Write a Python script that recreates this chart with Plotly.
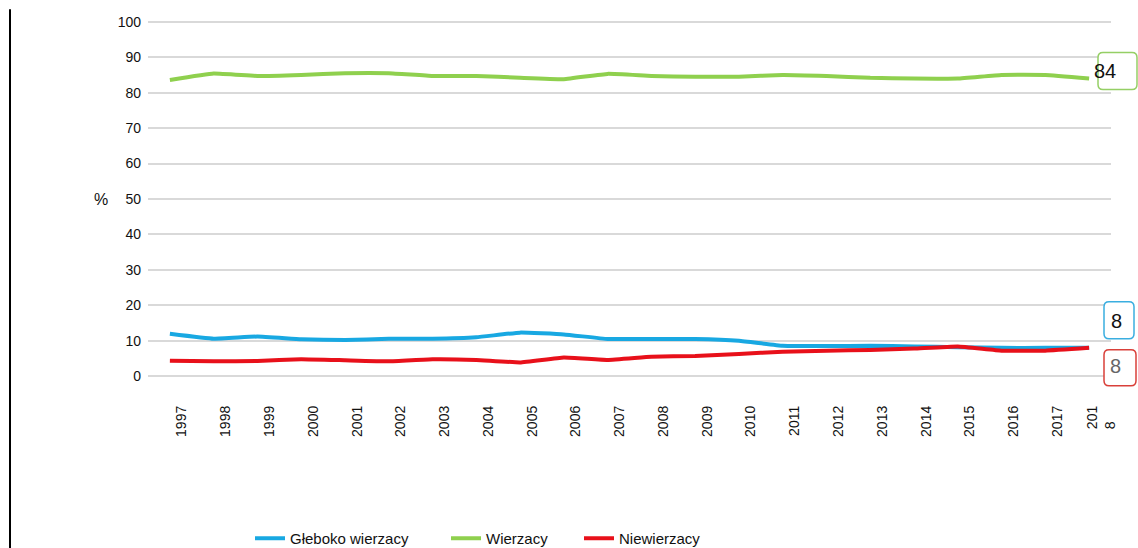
import plotly.graph_objects as go

# Survey years and tick labels (last label wraps onto a second line)
years = list(range(1997, 2019))
year_labels = [str(y) for y in years[:-1]] + ["201<br>8" + "\u00a0" * 4]

# Share of respondents, %
gleboko = [12.0, 10.6, 11.2, 10.4, 10.2, 10.6, 10.6, 11.0, 12.3, 11.8, 10.5,
           10.5, 10.5, 10.0, 8.6, 8.5, 8.6, 8.4, 8.2, 8.0, 8.0, 8]
wierzacy = [83.6, 85.4, 84.7, 85.0, 85.5, 85.5, 84.7, 84.7, 84.2, 83.8, 85.3,
            84.7, 84.5, 84.5, 85.0, 84.7, 84.2, 84.0, 84.0, 85.0, 85.0, 84]
niewierzacy = [4.4, 4.2, 4.3, 4.8, 4.5, 4.2, 4.8, 4.6, 3.9, 5.3, 4.6,
               5.5, 5.7, 6.3, 6.9, 7.2, 7.4, 7.8, 8.4, 7.2, 7.2, 8]

series_names = ["Głeboko wierzacy", "Wierzacy", "Niewierzacy"]
line_colors = ["#18a8e2", "#8fd04e", "#e8101a"]
box_colors = ["#3aaee0", "#95cf65", "#d9403a"]
end_text_colors = ["#111111", "#111111", "#666666"]

FONT = "Liberation Sans, Arial, sans-serif"
Y_MIN, Y_MAX = -0.5, 100.5

fig = go.Figure()
for i, (name, vals) in enumerate(zip(series_names, [gleboko, wierzacy, niewierzacy])):
    fig.add_trace(go.Scatter(
        x=years, y=vals, name=name, mode="lines",
        line=dict(color=line_colors[i], width=4, shape="spline", smoothing=0.3),
        legend="legend" if i == 0 else f"legend{i + 1}",
    ))

# Each legend entry placed on its own, in container pixels
legend_left = [250, 446, 579]
legend_common = dict(
    orientation="h", xref="container", yref="container", xanchor="left",
    yanchor="top", y=(548 - 522) / 548, font=dict(family=FONT, size=15, color="#111111"),
    bgcolor="rgba(0,0,0,0)", itemwidth=30,
)
fig.update_layout(
    legend=dict(x=legend_left[0] / 1138, **legend_common),
    legend2=dict(x=legend_left[1] / 1138, **legend_common),
    legend3=dict(x=legend_left[2] / 1138, **legend_common),
)


def rounded_box(x0, x1, y0, y1, r=5):
    # pixel offsets; y grows upward
    return (f"M{x0 + r},{y1} L{x1 - r},{y1} Q{x1},{y1} {x1},{y1 - r} "
            f"L{x1},{y0 + r} Q{x1},{y0} {x1 - r},{y0} L{x0 + r},{y0} "
            f"Q{x0},{y0} {x0},{y0 + r} L{x0},{y1 - r} Q{x0},{y1} {x0 + r},{y1} Z")


# End-value call-outs at the right edge of the plot
last_vals = [gleboko[-1], wierzacy[-1], niewierzacy[-1]]
boxes = [(-7, 23, 9, 46), (-13, 26, -11, 26), (-7, 25, -38, -2)]
text_shift = [(13, 27), (7, 7), (12, -18)]
for i in [1, 0, 2]:
    bx0, bx1, by0, by1 = boxes[i]
    fig.add_shape(
        type="path", xref="paper", yref="paper", xsizemode="pixel", ysizemode="pixel",
        xanchor=1, yanchor=(last_vals[i] - Y_MIN) / (Y_MAX - Y_MIN),
        path=rounded_box(bx0, bx1, by0, by1),
        line=dict(color=box_colors[i], width=1.5), fillcolor="white", layer="above",
    )
    fig.add_annotation(
        xref="paper", yref="y", x=1, y=last_vals[i], xshift=text_shift[i][0],
        yshift=text_shift[i][1], text=f"{last_vals[i]:g}", showarrow=False,
        font=dict(family=FONT, size=20, color=end_text_colors[i]),
    )

# "%" unit label beside the 50 tick
fig.add_annotation(
    xref="paper", yref="y", x=0, y=50, xshift=-56, text="%", showarrow=False,
    font=dict(family=FONT, size=16, color="#111111"),
)

# Thin dark rule along the left edge of the page
fig.add_shape(type="line", xref="paper", yref="paper",
              x0=(10 - 148) / 963, x1=(10 - 148) / 963, y0=1.03, y1=-0.48,
              line=dict(color="#000000", width=2))

fig.update_layout(
    width=1138, height=548,
    margin=dict(l=148, r=27, t=20, b=170),
    paper_bgcolor="white", plot_bgcolor="white",
    font=dict(family=FONT, color="#111111"),
    xaxis=dict(
        range=[1996.5, 2018.5], tickvals=years, ticktext=year_labels,
        tickangle=-90, showgrid=False, zeroline=False, showline=False,
        ticks="", tickfont=dict(family=FONT, size=14, color="#111111"),
        ticklabelstandoff=24, ticklabelshift=12,
    ),
    yaxis=dict(
        range=[Y_MIN, Y_MAX], tickvals=list(range(0, 101, 10)),
        showgrid=True, gridcolor="#d9d9d9", gridwidth=2, zeroline=False,
        showline=False, ticks="", tickfont=dict(family=FONT, size=14, color="#111111"),
        ticklabelstandoff=6,
    ),
    showlegend=True,
)

fig.write_html("out.html")
